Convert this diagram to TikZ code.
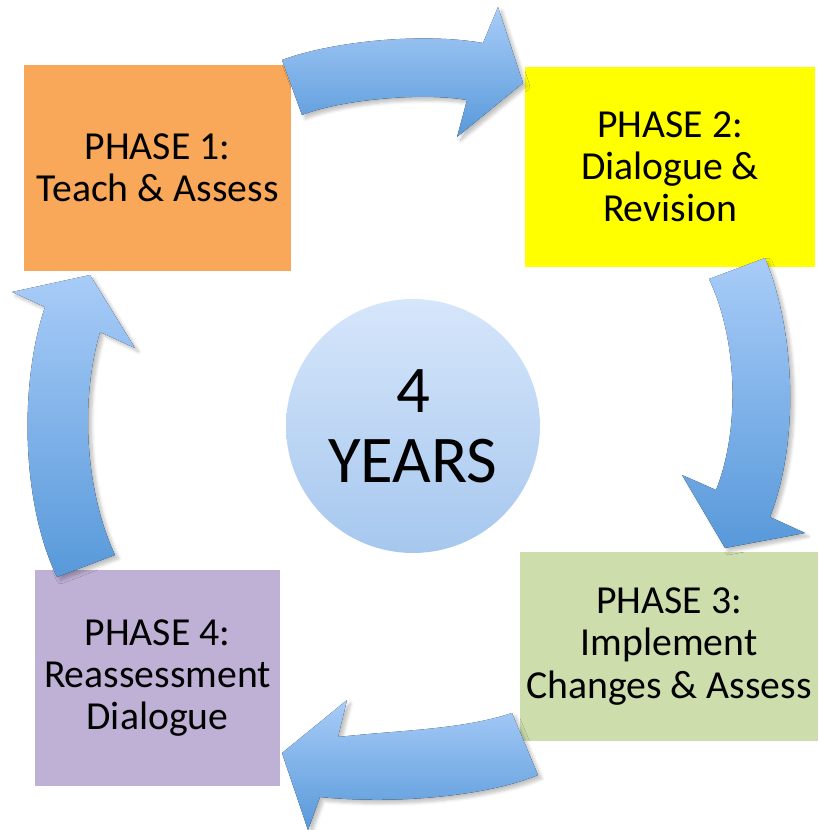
\documentclass[tikz,border=0pt]{standalone}
\usepackage{fontspec}
\setmainfont{Carlito}
\usetikzlibrary{shadows.blur}
\definecolor{phaseone}{RGB}{249,167,88}
\definecolor{phasetwo}{RGB}{255,255,0}
\definecolor{phasethree}{RGB}{205,221,172}
\definecolor{phasefour}{RGB}{191,177,213}
\definecolor{arrowtop}{RGB}{168,204,248}
\definecolor{arrowbot}{RGB}{88,153,218}
\definecolor{hubtop}{RGB}{214,230,251}
\definecolor{hubbot}{RGB}{166,199,238}

\begin{document}
\begin{tikzpicture}[x=0.02cm, y=-0.02cm,
      phase/.style={inner sep=0pt, align=center, font=\fontsize{22.6}{24}\selectfont},
      cyclearrow/.style={top color=arrowtop, bottom color=arrowbot, draw=none,
                         blur shadow={shadow xshift=2pt, shadow yshift=-2pt,
                                      shadow blur steps=6, shadow opacity=25}}]

    \useasboundingbox (0,0) rectangle (818,830);

    \node[phase, fill=phaseone, minimum width=5.34cm, minimum height=4.12cm] (p1) at (157.5,168) {PHASE 1:\\Teach \& Assess};
    \node[phase, fill=phasetwo, minimum width=5.8cm, minimum height=4cm]     (p2) at (670,167)   {PHASE 2:\\Dialogue \&\\Revision};
    \node[phase, fill=phasethree, minimum width=5.96cm, minimum height=3.78cm] (p3) at (669,646.5) {PHASE 3:\\Implement\\Changes \& Assess};
    \node[phase, fill=phasefour, minimum width=4.9cm, minimum height=4.32cm]  (p4) at (157.5,678) {PHASE 4:\\Reassessment\\Dialogue};

    \node[circle, top color=hubtop, bottom color=hubbot, minimum size=5.08cm, inner sep=0pt,
          align=center, font=\fontsize{38}{40}\selectfont] (yrs) at (413,426) {4\\YEARS};

    \fill[cyclearrow] (282,60) .. controls (330,42) and (420,32) .. (483,43) -- (498,7) -- (523,83)
      -- (457,137) -- (467,100) .. controls (420,92) and (340,100) .. (302,115) -- cycle;
    \fill[cyclearrow] (709,279) -- (765,258) .. controls (795,330) and (800,440) .. (770,517)
      -- (805,533) -- (725,548) -- (682,475) -- (716,490) .. controls (740,430) and (738,340) .. (709,279) -- cycle;
    \fill[cyclearrow] (512,713) -- (538,775) .. controls (490,795) and (400,805) .. (320,797)
      -- (308,830) -- (282,753) -- (347,700) -- (338,737) .. controls (400,730) and (460,730) .. (512,713) -- cycle;
    \fill[cyclearrow] (57,577) .. controls (20,500) and (20,380) .. (45,307) -- (12,292) -- (90,275)
      -- (135,348) -- (100,332) .. controls (80,400) and (85,490) .. (115,555) -- cycle;
\end{tikzpicture}
\end{document}
